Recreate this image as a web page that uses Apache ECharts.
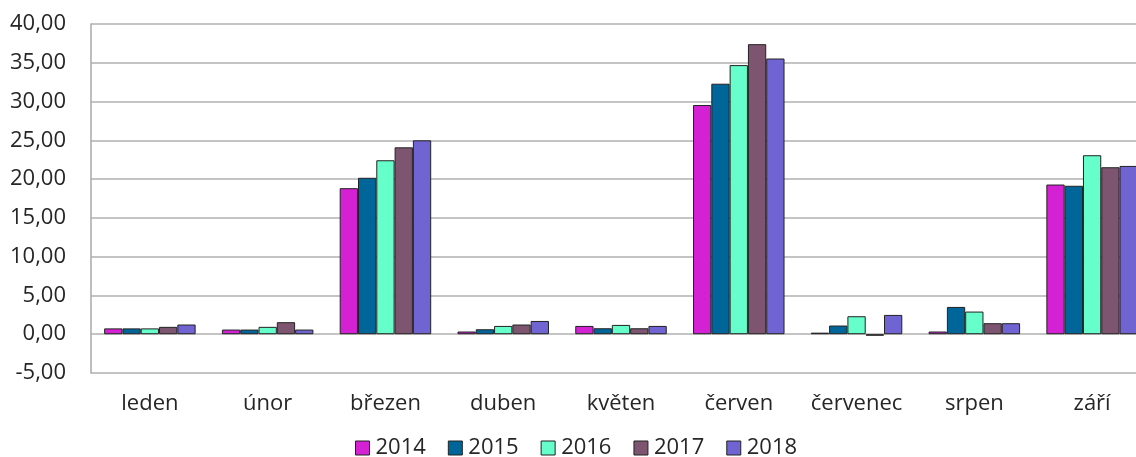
<!DOCTYPE html>
<html>
<head>
<meta charset="utf-8">
<script src="https://cdn.jsdelivr.net/npm/echarts@6/dist/echarts.min.js"></script>
<style>
html,body{margin:0;padding:0;background:#fff;}
#chart{width:1136px;height:457px;}
</style>
</head>
<body>
<div id="chart"></div>
<script>
const categories = ['leden','únor','březen','duben','květen','červen','červenec','srpen','září'];
const years = ['2014','2015','2016','2017','2018'];
const v2014 = [0.75, 0.60, 18.83, 0.35, 1.07, 29.55, 0.20, 0.35, 19.30];
const v2015 = [0.75, 0.60, 20.17, 0.64, 0.77, 32.30, 1.12, 3.52, 19.14];
const v2016 = [0.75, 0.95, 22.43, 1.07, 1.20, 34.70, 2.32, 2.92, 23.08];
const v2017 = [0.95, 1.55, 24.10, 1.25, 0.77, 37.40, -0.20, 1.42, 21.53];
const v2018 = [1.25, 0.60, 25.00, 1.71, 1.07, 35.55, 2.49, 1.42, 21.70];
const seriesValues = [v2014, v2015, v2016, v2017, v2018];
const colors = ['#D421D4', '#006699', '#66FFCC', '#7E5570', '#7064D3'];
const yTicks = {min: -5, max: 40, interval: 5};

const chart = echarts.init(document.getElementById('chart'));
const font = '"Open Sans", sans-serif';
chart.setOption({
  animation: false,
  backgroundColor: '#ffffff',
  color: colors,
  grid: {left: 91, top: 24, right: -15, bottom: 84, containLabel: false, outerBoundsMode: 'none'},
  legend: {
    data: years,
    top: 432,
    left: 350,
    icon: 'rect',
    itemWidth: 14,
    itemHeight: 14,
    itemGap: 22,
    textStyle: {fontFamily: font, fontSize: 22, color: '#262626', padding: [0,0,0,1]},
    itemStyle: {borderColor: '#222', borderWidth: 1}
  },
  xAxis: {
    type: 'category',
    data: categories,
    axisLine: {show: false, onZero: false},
    axisTick: {show: false},
    axisLabel: {fontFamily: font, fontSize: 22, color: '#262626', margin: 20, interval: 0}
  },
  yAxis: {
    type: 'value',
    min: yTicks.min, max: yTicks.max, interval: yTicks.interval,
    axisLine: {show: true, lineStyle: {color: '#a8a8a8', width: 1.5}},
    axisTick: {show: false},
    splitLine: {show: true, lineStyle: {color: '#b0b0b0', width: 1.5}},
    axisLabel: {
      fontFamily: font, fontSize: 22, color: '#262626', margin: 25,
      formatter: v => v.toFixed(2).replace('.', ',')
    }
  },
  series: years.map((y, i) => ({
    name: y,
    type: 'bar',
    data: seriesValues[i],
    barWidth: 18.3,
    barGap: '0%',
    itemStyle: {color: colors[i], borderColor: '#222', borderWidth: 1}
  }))
});
</script>
</body>
</html>
